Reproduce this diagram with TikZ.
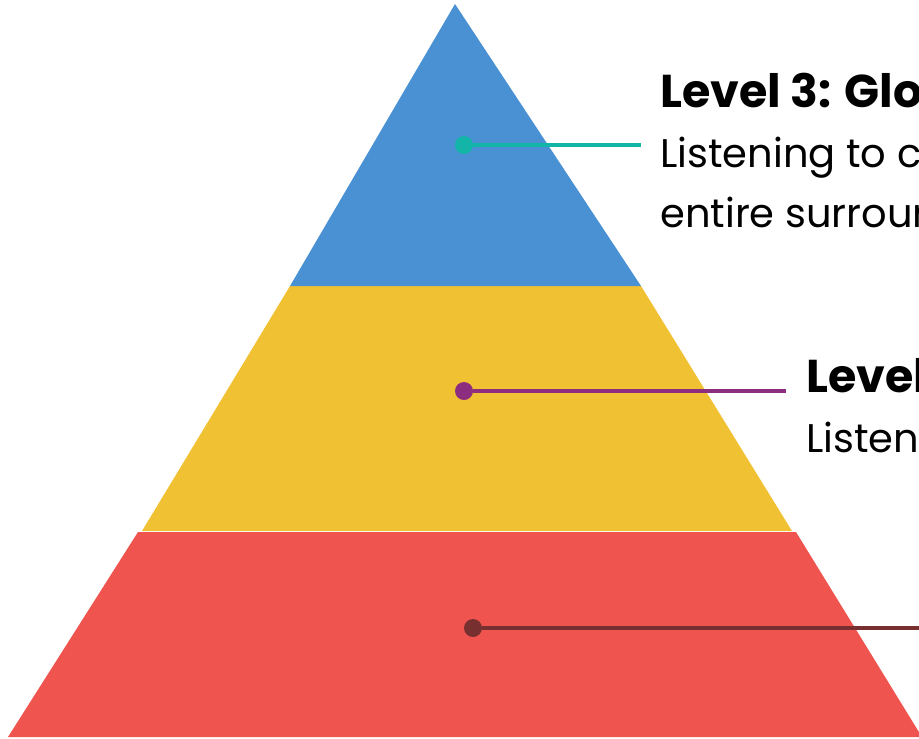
\documentclass[tikz,border=0pt]{standalone}
\usepackage{fontspec}
\setmainfont{Poppins}
\usetikzlibrary{positioning}

\definecolor{bandblue}{HTML}{4A91D3}
\definecolor{bandyellow}{HTML}{F0C132}
\definecolor{bandred}{HTML}{F0544F}
\definecolor{pinteal}{HTML}{14B5A9}
\definecolor{pinpurple}{HTML}{8C2D80}
\definecolor{pinmaroon}{HTML}{77302F}

\begin{document}
\begin{tikzpicture}[x=1pt, y=-1pt,
  pin/.style={circle, fill, inner sep=0pt, minimum size=18pt},
  link/.style={line width=3.5pt},
  title/.style={anchor=base west, inner sep=0pt, font=\fontsize{46}{46}\selectfont\bfseries},
  body/.style={anchor=base west, inner sep=0pt, font=\fontsize{40}{40}\selectfont}]
\useasboundingbox (0,0) rectangle (919,739);
\clip (0,0) rectangle (919,739);

% pyramid bands, bottom to top
\fill[bandred] (138,532) -- (796,532) -- (922,737) -- (8,737) -- cycle;
\fill[bandyellow] (290,286) -- (641,286) -- (792,531) -- (142,531) -- cycle;
\fill[bandblue] (455,4) -- (641,286) -- (290,286) -- cycle;

% markers and leader lines
\node[pin, pinteal] (dotthree) at (464,145) {};
\coordinate (endthree) at (641,145);
\draw[link, pinteal] (dotthree) -- (endthree);

\node[pin, pinpurple] (dottwo) at (464,391) {};
\coordinate (endtwo) at (786,391);
\draw[link, pinpurple] (dottwo) -- (endtwo);

\node[pin, pinmaroon] (dotone) at (473,628) {};
\coordinate (endone) at (930,628);
\draw[link, pinmaroon] (dotone) -- (endone);

% level texts
\node[title] (titlethree) at (660,107) {Level 3: Glo};
\node[body] (bodythreea) at (660,167) {Listening to c};
\node[body] (bodythreeb) at (660,227) {entire surroun};

\node[title] (titletwo) at (806,392) {Level};
\node[body] (bodytwo) at (806,452) {Listen};
\end{tikzpicture}
\end{document}
